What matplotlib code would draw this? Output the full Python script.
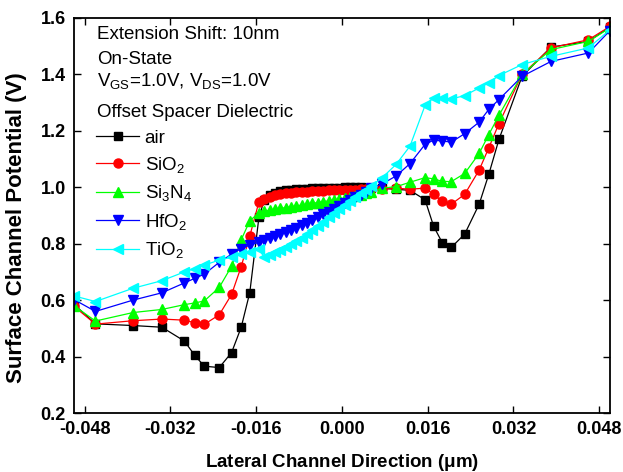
import matplotlib
matplotlib.use('Agg')
import matplotlib.pyplot as plt

plt.rcParams['font.family'] = ['Liberation Sans', 'DejaVu Sans']
plt.rcParams['mathtext.default'] = 'regular'

# griglia della simulazione (um)
x_pos = [-0.05, -0.046, -0.039, -0.0336, -0.0294, -0.0275, -0.0257, -0.0229, -0.0206, -0.0188, -0.0172, -0.0155,
         -0.0145, -0.0135, -0.0125, -0.0115, -0.0105, -0.0095, -0.0085, -0.0075, -0.0065, -0.0055, -0.0045,
         -0.0035, -0.0025, -0.0015, -0.0005, 0.0005, 0.0015, 0.0025, 0.0035, 0.0045, 0.0055,
         0.0075, 0.0101, 0.0127, 0.0155, 0.0171, 0.0187, 0.0204, 0.0229, 0.0256, 0.0274, 0.0293, 0.0336,
         0.039, 0.046, 0.05]

air = [0.585, 0.516, 0.510, 0.504, 0.455, 0.405, 0.366, 0.361, 0.414, 0.504, 0.627, 0.893,
       0.955, 0.972, 0.981, 0.986, 0.989, 0.991, 0.993, 0.994, 0.995, 0.996, 0.997,
       0.998, 0.998, 0.999, 0.999, 1.000, 1.000, 1.000, 1.000, 0.999, 0.998,
       0.996, 0.993, 0.989, 0.956, 0.862, 0.804, 0.787, 0.834, 0.940, 1.046, 1.170, 1.393,
       1.497, 1.517, 1.568]

sio2 = [0.578, 0.515, 0.527, 0.533, 0.529, 0.520, 0.514, 0.548, 0.620, 0.719, 0.827, 0.948,
        0.958, 0.966, 0.972, 0.975, 0.978, 0.980, 0.982, 0.984, 0.985, 0.986, 0.987,
        0.988, 0.989, 0.990, 0.990, 0.991, 0.992, 0.992, 0.993, 0.993, 0.993,
        0.994, 0.997, 0.993, 0.997, 0.975, 0.950, 0.940, 0.975, 1.061, 1.140, 1.226, 1.400,
        1.494, 1.523, 1.570]

si3n4 = [0.580, 0.526, 0.556, 0.567, 0.584, 0.590, 0.597, 0.645, 0.720, 0.814, 0.881, 0.910,
         0.915, 0.919, 0.922, 0.925, 0.928, 0.931, 0.934, 0.937, 0.940, 0.943, 0.946,
         0.949, 0.952, 0.955, 0.958, 0.961, 0.965, 0.969, 0.974, 0.979, 0.985,
         0.997, 1.002, 1.018, 1.034, 1.030, 1.021, 1.020, 1.049, 1.120, 1.187, 1.255, 1.400,
         1.488, 1.517, 1.565]

hfo2 = [0.602, 0.560, 0.600, 0.626, 0.661, 0.677, 0.692, 0.734, 0.763, 0.783, 0.795, 0.805,
        0.812, 0.819, 0.826, 0.834, 0.841, 0.849, 0.857, 0.866, 0.875, 0.884, 0.894,
        0.904, 0.914, 0.924, 0.934, 0.944, 0.954, 0.964, 0.974, 0.984, 0.996,
        1.012, 1.040, 1.084, 1.152, 1.167, 1.164, 1.160, 1.190, 1.231, 1.276, 1.311, 1.393,
        1.446, 1.476, 1.555]

tio2 = [0.615, 0.595, 0.642, 0.669, 0.700, 0.712, 0.724, 0.742, 0.752, 0.763, 0.772, 0.780,
        0.752, 0.760, 0.769, 0.778, 0.788, 0.798, 0.808, 0.820, 0.834, 0.848, 0.863,
        0.878, 0.893, 0.908, 0.922, 0.936, 0.950, 0.964, 0.978, 0.992, 1.004,
        1.034, 1.081, 1.146, 1.290, 1.317, 1.317, 1.313, 1.325, 1.352, 1.370, 1.396, 1.435,
        1.464, 1.494, 1.558]

series = [
    ('air', air, 'black', 's', 5.5),
    ('SiO$_2$', sio2, '#ff0000', 'o', 6.5),
    ('Si$_3$N$_4$', si3n4, '#00ff00', '^', 7),
    ('HfO$_2$', hfo2, '#0000ff', 'v', 7),
    ('TiO$_2$', tio2, '#00ffff', '<', 7),
]

xticks = [-0.048, -0.032, -0.016, 0.000, 0.016, 0.032, 0.048]
yticks = [0.2, 0.4, 0.6, 0.8, 1.0, 1.2, 1.4, 1.6]

fig = plt.figure(figsize=(6.23, 4.72), dpi=100)
ax = fig.add_axes([0.1188, 0.125, 0.8602, 0.8369])

for name, vals, col, mk, ms in series:
    ax.plot(x_pos, vals, color=col, marker=mk, markersize=ms, linewidth=0.9,
            markeredgecolor=col, label=name)

ax.set_xlim(-0.05, 0.05)
ax.set_ylim(0.2, 1.6)
ax.set_xticks(xticks)
ax.set_xticklabels(['%.3f' % t for t in xticks])
ax.set_yticks(yticks)
ax.set_yticklabels(['%.1f' % t for t in yticks])
ax.tick_params(direction='in', length=5, width=1, top=True, right=True, pad=6,
               labelsize=13)
for lab in ax.get_xticklabels() + ax.get_yticklabels():
    lab.set_fontweight('bold')
for sp in ax.spines.values():
    sp.set_linewidth(1.3)

ax.set_xlabel('Lateral Channel Direction ($\\mu$m)', fontsize=13.5, fontweight='bold', labelpad=10)
ax.set_ylabel('Surface Channel Potential (V)', fontsize=16, fontweight='bold')
ax.yaxis.set_label_coords(-0.088, 0.47)

# testo in alto a sinistra
ax.text(0.043, 0.957, 'Extension Shift: 10nm', transform=ax.transAxes, fontsize=13.5, va='center')
ax.text(0.043, 0.896, 'On-State', transform=ax.transAxes, fontsize=13.5, va='center')
ax.text(0.043, 0.840, 'V$_{GS}$=1.0V, V$_{DS}$=1.0V', transform=ax.transAxes, fontsize=13.5, va='center')
ax.text(0.043, 0.760, 'Offset Spacer Dielectric', transform=ax.transAxes, fontsize=13.5, va='center')

ax.legend(loc='upper left', bbox_to_anchor=(0.041, 0.718), frameon=False, fontsize=13.5,
          handlelength=2.3, handletextpad=0.3, labelspacing=0.45, borderpad=0, borderaxespad=0)

plt.savefig('out.png', dpi=100)
